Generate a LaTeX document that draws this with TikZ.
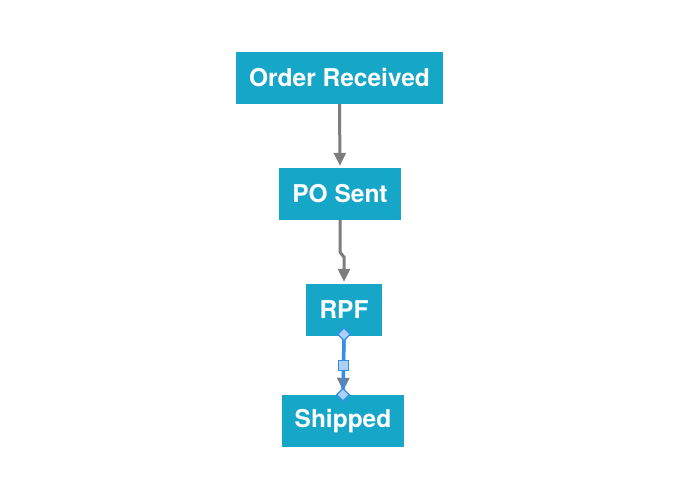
\documentclass[tikz,border=0pt]{standalone}
\usepackage{fontspec}
\setmainfont{TeX Gyre Heros}
\usepackage{tikz}
\usetikzlibrary{arrows.meta,calc,positioning,shapes.geometric}
\definecolor{flowteal}{RGB}{22,166,200}
\definecolor{flowgray}{RGB}{125,125,125}
\definecolor{selblue}{RGB}{52,140,236}
\definecolor{selfill}{RGB}{170,210,245}

\begin{document}
\begin{tikzpicture}[x=1pt, y=-1pt,
      stage/.style={fill=flowteal, text=white, minimum height=52pt, inner sep=0pt, font=\fontsize{24.5}{28}\selectfont\bfseries},
      flow/.style={draw=flowgray, line width=3pt, -{Triangle[length=13pt,width=12pt]}},
      selected/.style={draw=selblue, line width=3.5pt},
      handle/.style={diamond, draw=selblue, fill=selfill, line width=1.2pt, minimum size=13pt, inner sep=0pt},
      midhandle/.style={rectangle, draw=selblue, fill=selfill, line width=1.2pt, minimum size=10pt, inner sep=0pt}
    ]
      \useasboundingbox (0,0) rectangle (695,494);

      \node[stage, minimum width=207pt] (order) at (339.5, 78) {Order Received};
      \node[stage, minimum width=122pt] (posent) at (340, 194) {PO Sent};
      \node[stage, minimum width=76pt] (rpf) at (344, 310) {RPF};
      \node[stage, minimum width=122pt] (shipped) at (343, 421) {Shipped};

      \draw[flow, shorten >=2pt] (order.south) -- (posent.north);
      \draw[flow, shorten >=2pt] (posent.south) -- ++(0,32) -- ++(4,5) -- (rpf.north);
      \draw[flow, shorten >=4pt] (rpf.south) -- (shipped.north);

      % selected connector
      \draw[selected] (rpf.south) -- (shipped.north);
      \coordinate (mid) at ($(rpf.south)!0.5!(shipped.north)$);
      \node[handle] at ([yshift=2pt]rpf.south) {};
      \node[midhandle] at (mid) {};
      \node[handle] at (shipped.north) {};
    \end{tikzpicture}
\end{document}
